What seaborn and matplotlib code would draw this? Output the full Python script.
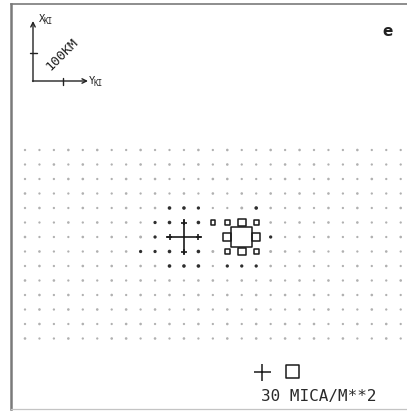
import numpy as np
import pandas as pd
import matplotlib
matplotlib.use("Agg")
import matplotlib.pyplot as plt
import seaborn as sns

# ---------------------------------------------------------------------------
# Deposition field on a regular 50 km grid (YKI east, XKI north), MICA/M**2.
# Positive values are drawn as "+", negative values as open squares; values
# too small for a symbol are drawn as dots.
# ---------------------------------------------------------------------------
yki_km = list(range(0, 1350, 50))          # 27 columns
xki_km = list(range(650, -50, -50))        # 14 rows, north to south

row_00 = [3, -3, 3, -4, 3, 4, -3, 3, 4, 3, -3, 3, 4, 3, 4, -3, 3, -4, 3, 4, -3, 3, -3, 4, 3, -3, 3]
row_01 = [-3, 3, -4, 3, 4, 3, 3, -3, 4, 3, 4, 3, -4, 3, 4, -3, 3, 3, -4, 3, 4, -3, 3, 4, -3, 3, 3]
row_02 = [3, -3, 3, -4, 4, 3, 3, -4, 3, 4, 3, -3, 3, -4, 4, 3, -3, 3, 4, 3, -3, -4, 3, 3, 4, -3, 3]
row_03 = [4, 3, -3, 3, 4, 3, -3, 4, 3, 4, -3, 4, 3, 4, 3, 4, 3, 4, -3, 4, 3, -4, 3, 4, 3, -3, 3]
row_04 = [3, 4, -3, 3, 4, 3, 3, 4, 3, 4, 7, 7, 6, 3, 3, 5, 7, 4, 3, 4, 3, 4, 3, 4, -3, 3, 4]
row_05 = [3, 3, -3, 4, 3, 4, 3, 4, -3, 6, 7, 10, 7, -10, -11, -18, -11, 4, 3, 4, 3, -4, 3, 4, 3, 3, -3]
row_06 = [4, 3, -3, 3, 4, 3, 4, 3, 5, 6, 10, 64, 10, 0, -18, -48, -18, 6, 3, 4, 3, 4, -3, 3, 4, 3, 4]
row_07 = [3, 4, 3, -3, 3, 4, 3, 4, 6, 6, 7, 10, 7, 5, -11, -18, -11, 5, 4, 3, 4, 3, 4, -3, 3, 4, 3]
row_08 = [3, 4, 3, -3, 4, 3, 4, 3, 4, 4, 7, 7, 7, 3, 6, 6, 6, 4, 3, 4, 3, -3, 3, 4, 3, 4, 3]
row_09 = [4, 3, 4, 3, -4, 3, 4, 3, 4, 3, 4, 3, 4, 4, 3, 4, 3, 4, 3, -4, 3, 4, 3, 4, -3, 3, 4]
row_10 = [3, -4, 3, 4, 3, -3, 4, 3, 4, 3, -4, 3, 4, 3, 4, 3, -4, 3, 4, 3, 4, 3, -4, 3, 4, 3, 3]
row_11 = [-3, 4, 3, -4, 3, 4, 3, -4, 3, 4, 3, 3, 4, -3, 4, 3, 4, 3, -3, 4, 3, 4, 3, 3, 4, -3, 3]
row_12 = [3, 4, -3, 3, 4, -3, 3, 4, -4, 3, 4, 3, 4, 3, 4, 3, -4, 3, 4, 3, 4, -3, 3, 4, 3, 4, 3]
row_13 = [4, -3, 3, 4, -3, 3, 4, -4, 3, 4, 3, 4, -3, 3, 4, 3, 4, 3, -4, 3, 4, 3, 4, -3, 3, 4, 3]

deposit_rows = [row_00, row_01, row_02, row_03, row_04, row_05, row_06,
                row_07, row_08, row_09, row_10, row_11, row_12, row_13]

legend_value = 30
legend_label = "30 MICA/M**2"
panel_tag = "e"
axis_x_label = "X"
axis_y_label = "Y"
axis_sub = "KI"
scale_label = "100KM"

# ---------------------------------------------------------------------------
W, H, DPI = 407, 413, 100
sns.set_theme(style="white")
plt.rcParams["font.family"] = ["DejaVu Sans Mono", "DejaVu Sans"]

records = []
for xk, row in zip(xki_km, deposit_rows):
    for yk, v in zip(yki_km, row):
        records.append({"yki": yk, "xki": xk, "value": v})
df = pd.DataFrame(records)
df = df[df["value"] != 0].copy()

SYMBOL_MIN = 10
df["kind"] = np.where(df["value"].abs() < SYMBOL_MIN, "dot",
                      np.where(df["value"] > 0, "plus", "square"))

# symbol size: plus span / square side grow linearly with |value|;
# dots get a small base diameter plus a linear part
PX_TO_PT = 72.0 / DPI
PX_PER_UNIT = {"plus": 17.0 / 30.0, "square": 13.0 / 30.0, "dot": 0.33}
PX_BASE = {"plus": 0.0, "square": 0.0, "dot": 1.3}


def marker_area(v, kind):
    return ((PX_BASE[kind] + abs(v) * PX_PER_UNIT[kind]) * PX_TO_PT) ** 2


df["area"] = [marker_area(v, k) for v, k in zip(df["value"], df["kind"])]

fig = plt.figure(figsize=(W / DPI, H / DPI), dpi=DPI)
fig.patch.set_facecolor("white")

# frame box in pixels (left, top, right, bottom); right edge runs off the page
L, T, R, B = 11.0, 3.5, 415.0, 409.0
ax = fig.add_axes([L / W, (H - B) / H, (R - L) / W, (B - T) / H])
ax.set_facecolor("white")

# data limits: 50 km per grid step, first column at x=25 px, last row at y=338.5 px
kx = 50.0 / 14.45
ky = 50.0 / 14.5
ax.set_xlim((L - 25.0) * kx, (R - 25.0) * kx)
ax.set_ylim((338.5 - B) * ky, (338.5 - T) * ky)
ax.set_xticks([])
ax.set_yticks([])

for side, sp in ax.spines.items():
    sp.set_visible(side != "right")
    sp.set_color("#7a7a7a")
ax.spines["left"].set_linewidth(1.8)
ax.spines["top"].set_linewidth(1.2)
ax.spines["bottom"].set_linewidth(0.9)
ax.spines["bottom"].set_color("#c4c4c4")


def draw(sub, marker, color, lw):
    if sub.empty:
        return
    lo, hi = sub["area"].min(), sub["area"].max()
    if hi <= lo:
        hi = lo * 1.0001 + 1e-6
    kw = dict(marker=marker, legend=False, ax=ax,
              size="area", sizes=(lo, hi), size_norm=(lo, hi))
    if marker == "s":
        kw.update(facecolor="none", edgecolor=color, linewidth=lw)
    elif marker == "o":
        kw.update(color=color, linewidth=0)
    else:
        kw.update(color=color, linewidth=lw)
    sns.scatterplot(data=sub, x="yki", y="xki", **kw)
    ax.set_xlabel("")
    ax.set_ylabel("")


dots = df[df["kind"] == "dot"]
faint = dots["value"].abs() < 6
draw(dots[faint], "o", "#b0b0b0", 0)
draw(dots[~faint], "o", "#2e2e2e", 0)
draw(df[df["kind"] == "plus"], "+", "#1a1a1a", 1.2)
draw(df[df["kind"] == "square"], "s", "#1a1a1a", 1.1)


# ---- helpers in page pixels (origin top-left) -----------------------------
def fp(x, y):
    return (x / W, 1.0 - y / H)


# coordinate cross with 100 km tick marks
arrow_kw = dict(arrowstyle="->", color="#222222", lw=1.0,
                shrinkA=0, shrinkB=0, mutation_scale=8)
ax.annotate("", xy=fp(33, 21), xytext=fp(33, 81.5),
            xycoords="figure fraction", textcoords="figure fraction",
            arrowprops=arrow_kw)
ax.annotate("", xy=fp(88, 81), xytext=fp(32.5, 81),
            xycoords="figure fraction", textcoords="figure fraction",
            arrowprops=arrow_kw)
fig.add_artist(plt.Line2D([29.5 / W, 36.5 / W], [1 - 53 / H] * 2,
                          color="#222222", lw=1.0))
fig.add_artist(plt.Line2D([62.5 / W] * 2, [1 - 77.5 / H, 1 - 84.5 / H],
                          color="#222222", lw=1.0))

fig.text(*fp(39, 19), axis_x_label, fontsize=7.5, color="#222222",
         ha="left", va="center")
fig.text(*fp(44, 22), axis_sub, fontsize=5.5, color="#222222",
         ha="left", va="center")
fig.text(*fp(88.5, 81), axis_y_label, fontsize=7.5, color="#222222",
         ha="left", va="center")
fig.text(*fp(93.5, 83), axis_sub, fontsize=5.5, color="#222222",
         ha="left", va="center")
fig.text(*fp(62, 54), scale_label, fontsize=9.5, color="#222222",
         rotation=45, ha="center", va="center", rotation_mode="anchor")

fig.text(*fp(388, 32), panel_tag, fontsize=11, fontweight="bold",
         family=["DejaVu Sans"], color="#222222", ha="center", va="center")

# ---- size key ---------------------------------------------------------------
key = pd.DataFrame({"kind": ["plus", "square"], "value": [legend_value, legend_value]})
key["area"] = [marker_area(v, k) for v, k in zip(key["value"], key["kind"])]
key_pos = {"plus": fp(262, 372), "square": fp(292, 371)}
for kind, marker in (("plus", "+"), ("square", "s")):
    r = key[key["kind"] == kind].iloc[0]
    extra = dict(facecolors="none", edgecolors="#1a1a1a") if marker == "s" else dict(c="#1a1a1a")
    ax.scatter([key_pos[kind][0]], [key_pos[kind][1]], s=r["area"], marker=marker,
               linewidths=1.1, transform=fig.transFigure, clip_on=False, **extra)
fig.text(*fp(261, 396), legend_label, fontsize=11.5, color="#2a2a2a",
         ha="left", va="center")

fig.savefig("out.png", dpi=DPI, facecolor="white")
